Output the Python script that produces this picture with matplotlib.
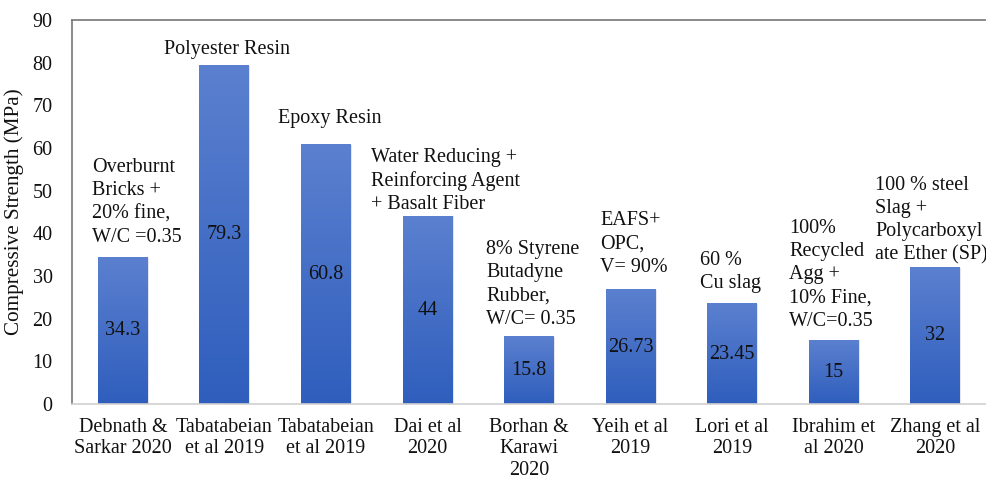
import numpy as np
import matplotlib
matplotlib.use("Agg")
import matplotlib.pyplot as plt
from matplotlib.colors import LinearSegmentedColormap

plt.rcParams['font.family'] = ['Liberation Serif', 'DejaVu Serif']

categories = ["Debnath &\nSarkar 2020", "Tabatabeian\net al 2019", "Tabatabeian\net al 2019",
              "Dai et al\n2020", "Borhan &\nKarawi\n2020", "Yeih et al\n2019", "Lori et al\n2019",
              "Ibrahim et\nal 2020", "Zhang et al\n2020"]
values = [34.3, 79.3, 60.8, 44, 15.8, 26.73, 23.45, 15, 32]
value_labels = ["34.3", "79.3", "60.8", "44", "15.8", "26.73", "23.45", "15", "32"]
notes = ["Overburnt\nBricks +\n20% fine,\nW/C =0.35",
         "Polyester Resin",
         "Epoxy Resin",
         "Water Reducing +\nReinforcing Agent\n+ Basalt Fiber",
         "8% Styrene\nButadyne\nRubber,\nW/C= 0.35",
         "EAFS+\nOPC,\nV= 90%",
         "60 %\nCu slag",
         "100%\nRecycled\nAgg +\n10% Fine,\nW/C=0.35",
         "100 % steel\nSlag +\nPolycarboxyl\nate Ether (SP)"]
# annotation placement (x offset from category centre, y centre in data units, alignment)
note_pos = [(-0.30, 47.3, 'left'), (0.03, 83.2, 'center'), (0.04, 67.0, 'center'),
            (-0.56, 52.3, 'left'), (-0.42, 28.1, 'left'), (-0.30, 37.5, 'left'),
            (-0.32, 31.0, 'left'), (-0.44, 30.3, 'left'), (-0.59, 43.1, 'left')]

fig = plt.figure(figsize=(9.87, 4.80), dpi=100)
ax = fig.add_axes([0.073, 0.158, 0.926, 0.800])

x = np.arange(len(values))
width = 0.49
bars = ax.bar(x, values, width=width, color='none', edgecolor='none', zorder=2)

cmap = LinearSegmentedColormap.from_list('g', ['#2f5ebd', '#5b80cf'])
grad = np.linspace(0, 1, 256).reshape(-1, 1)
for b in bars:
    x0 = b.get_x()
    h = b.get_height()
    ax.bar(x0 + width / 2 + 0.012, h, width=width, color='#c9cdd6', alpha=0.5, zorder=1.5)
    ax.imshow(grad, cmap=cmap, origin='lower', aspect='auto',
              extent=[x0, x0 + width, 0, h], zorder=2)

fs = 14.5
for i, (v, lab) in enumerate(zip(values, value_labels)):
    ax.text(i, v / 2, lab, ha='center', va='center', fontsize=fs, color='#111111', zorder=3)

for i, (n, (dx, yy, ha)) in enumerate(zip(notes, note_pos)):
    ax.text(i + dx, yy, n, ha=ha, va='center', fontsize=fs, linespacing=1.3,
            color='#111111', zorder=3)

ax.set_xlim(-0.5, len(values) - 0.5)
ax.set_ylim(0, 90)
ax.set_yticks(np.arange(0, 91, 10))
ax.set_xticks(x)
ax.set_xticklabels(categories, fontsize=fs, linespacing=1.16)
ax.tick_params(axis='both', length=0, labelsize=fs, colors='#111111')
ax.tick_params(axis='y', pad=14)
ax.tick_params(axis='x', pad=10)
ax.set_ylabel("Compressive Strength (MPa)", fontsize=15.2, color='#111111', labelpad=6)

for s in ['left', 'top']:
    ax.spines[s].set_color('#777777')
    ax.spines[s].set_linewidth(1.2)
ax.spines['bottom'].set_color('#d0d0d0')
ax.spines['bottom'].set_linewidth(1.2)
ax.spines['right'].set_visible(False)

fig.savefig('out.png', dpi=100)
